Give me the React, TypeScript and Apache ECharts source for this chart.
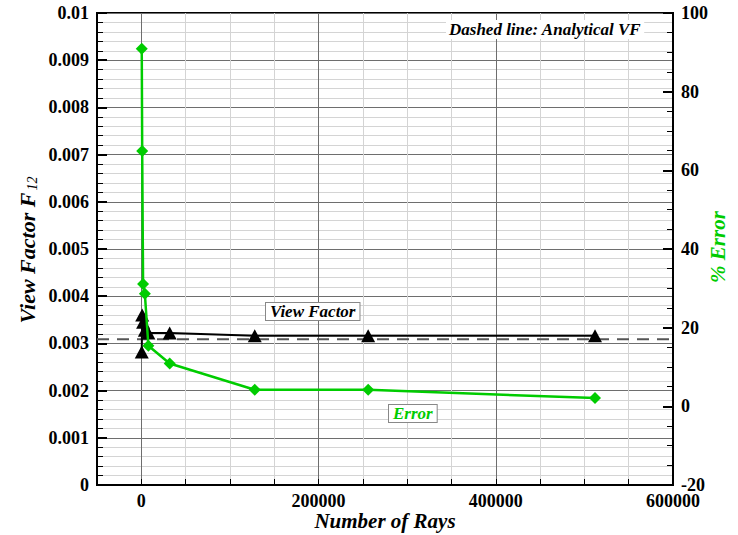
import React, { useEffect, useRef } from "react";
import * as echarts from "echarts";

const rays = [500, 1000, 2000, 4000, 8000, 32000, 128000, 256000, 512000];
const viewFactor = [0.00282, 0.0036, 0.00345, 0.00328, 0.00322, 0.00322, 0.00316, 0.00316, 0.00316];
const errorPct = [90.9, 64.9, 31.1, 28.6, 15.4, 10.9, 4.2, 4.2, 2.1];
const analyticalVF = 0.00309;
const analyticalRange = [-50000, 600000];
const xLabelStep = 200000;

const FONT = "'Liberation Serif', 'Times New Roman', serif";
const GREEN = "#00cc00";
const MAJOR = "#6e6e6e";
const MINOR = "#d4d4d4";

export default function App() {
  const ref = useRef<HTMLDivElement>(null);
  useEffect(() => {
    if (!ref.current) return;
    const chart = echarts.init(ref.current, null, { renderer: "svg" });
    const labelStyle = { fontFamily: FONT, fontWeight: "bold" as const, fontSize: 18, color: "#000" };
    chart.setOption({
      animation: false,
      backgroundColor: "#fff",
      grid: {
        left: 97,
        right: 65,
        top: 13,
        bottom: 50,
        containLabel: false,
        outerBoundsMode: "none",
        show: true,
        borderColor: "#000",
        borderWidth: 2,
        backgroundColor: "transparent",
      },
      xAxis: {
        type: "value",
        min: -50000,
        max: 600000,
        interval: 50000,
        axisLine: { show: true, onZero: false, lineStyle: { color: "#000", width: 2 } },
        axisTick: { show: true, inside: true, length: 6, lineStyle: { color: "#000", width: 1 } },
        axisLabel: {
          ...labelStyle,
          margin: 7,
          lineHeight: 18,
          showMinLabel: false,
          formatter: (v: number) => (v >= 0 && Math.abs(v % xLabelStep) < 1e-6 ? String(v) : ""),
        },
        splitLine: { show: true, lineStyle: { color: [MINOR, MAJOR, MINOR, MINOR], width: 1 } },
      },
      yAxis: [
        {
          type: "value",
          min: 0,
          max: 0.01,
          interval: 0.001,
          position: "left",
          axisLine: { show: true, onZero: false, lineStyle: { color: "#000", width: 2 } },
          axisTick: { show: true, inside: true, length: 10, lineStyle: { color: "#000", width: 2 } },
          minorTick: { show: true, splitNumber: 5, length: 6, lineStyle: { color: "#000", width: 1 } },
          axisLabel: { ...labelStyle, margin: 8, formatter: (v: number) => (v === 0 ? "0" : String(+v.toFixed(3))) },
          splitLine: { show: true, lineStyle: { color: MAJOR, width: 1 } },
          minorSplitLine: { show: true, lineStyle: { color: MINOR, width: 1 } },
        },
        {
          type: "value",
          min: -20,
          max: 100,
          interval: 20,
          position: "right",
          axisLine: { show: true, onZero: false, lineStyle: { color: "#000", width: 2 } },
          axisTick: { show: true, inside: true, length: 10, lineStyle: { color: "#000", width: 2 } },
          minorTick: { show: true, splitNumber: 4, length: 6, lineStyle: { color: "#000", width: 1 } },
          axisLabel: { ...labelStyle, margin: 8 },
          splitLine: { show: false },
        },
      ],
      series: [
        {
          name: "Analytical VF",
          type: "line",
          yAxisIndex: 0,
          data: analyticalRange.map((r) => [r, analyticalVF]),
          symbol: "none",
          lineStyle: { color: "#555", width: 2, type: [12, 8] },
          silent: true,
          z: 2,
        },
        {
          name: "View Factor",
          type: "line",
          yAxisIndex: 0,
          data: rays.map((r, i) => [r, viewFactor[i]]),
          symbol: "triangle",
          symbolSize: [14, 13],
          itemStyle: { color: "#000" },
          lineStyle: { color: "#000", width: 2 },
          z: 3,
        },
        {
          name: "Error",
          type: "line",
          yAxisIndex: 1,
          data: rays.map((r, i) => [r, errorPct[i]]),
          symbol: "diamond",
          symbolSize: 12,
          itemStyle: { color: GREEN },
          lineStyle: { color: GREEN, width: 2.5 },
          z: 4,
        },
      ],
      graphic: [
        {
          type: "text",
          x: 385,
          y: 521,
          z: 100,
          style: {
            text: "Number of Rays",
            font: `italic bold 21px ${FONT}`,
            fill: "#000",
            align: "center",
            verticalAlign: "middle",
          },
        },
        {
          type: "text",
          x: 27,
          y: 250,
          rotation: Math.PI / 2,
          z: 100,
          style: {
            text: "{a|View Factor F}{b|12}",
            align: "center",
            verticalAlign: "middle",
            rich: {
              a: { font: `italic bold 22px ${FONT}`, fill: "#000", lineHeight: 26 },
              b: { font: `italic 14px ${FONT}`, fill: "#000", lineHeight: 26, padding: [10, 0, 0, 2] },
            },
          },
        },
        {
          type: "text",
          x: 718,
          y: 247,
          rotation: Math.PI / 2,
          z: 100,
          style: {
            text: "% Error",
            font: `italic bold 21px ${FONT}`,
            fill: GREEN,
            align: "center",
            verticalAlign: "middle",
          },
        },
        {
          type: "text",
          left: 446,
          top: 20,
          z: 100,
          style: {
            text: "Dashed line: Analytical VF",
            font: `italic bold 17px ${FONT}`,
            fill: "#000",
            backgroundColor: "#fff",
            padding: [1, 3],
          },
        },
        {
          type: "text",
          left: 265,
          top: 302,
          z: 100,
          style: {
            text: "View Factor",
            font: `italic bold 17px ${FONT}`,
            fill: "#000",
            backgroundColor: "#fff",
            borderColor: "#888",
            borderWidth: 1,
            padding: [0, 4],
          },
        },
        {
          type: "text",
          left: 388,
          top: 404,
          z: 100,
          style: {
            text: "Error",
            font: `italic bold 17px ${FONT}`,
            fill: GREEN,
            backgroundColor: "#fff",
            borderColor: "#888",
            borderWidth: 1,
            padding: [0, 4],
          },
        },
      ],
    });
    return () => chart.dispose();
  }, []);
  return <div ref={ref} style={{ position: "absolute", left: 0, top: 0, width: 738, height: 535 }} />;
}
